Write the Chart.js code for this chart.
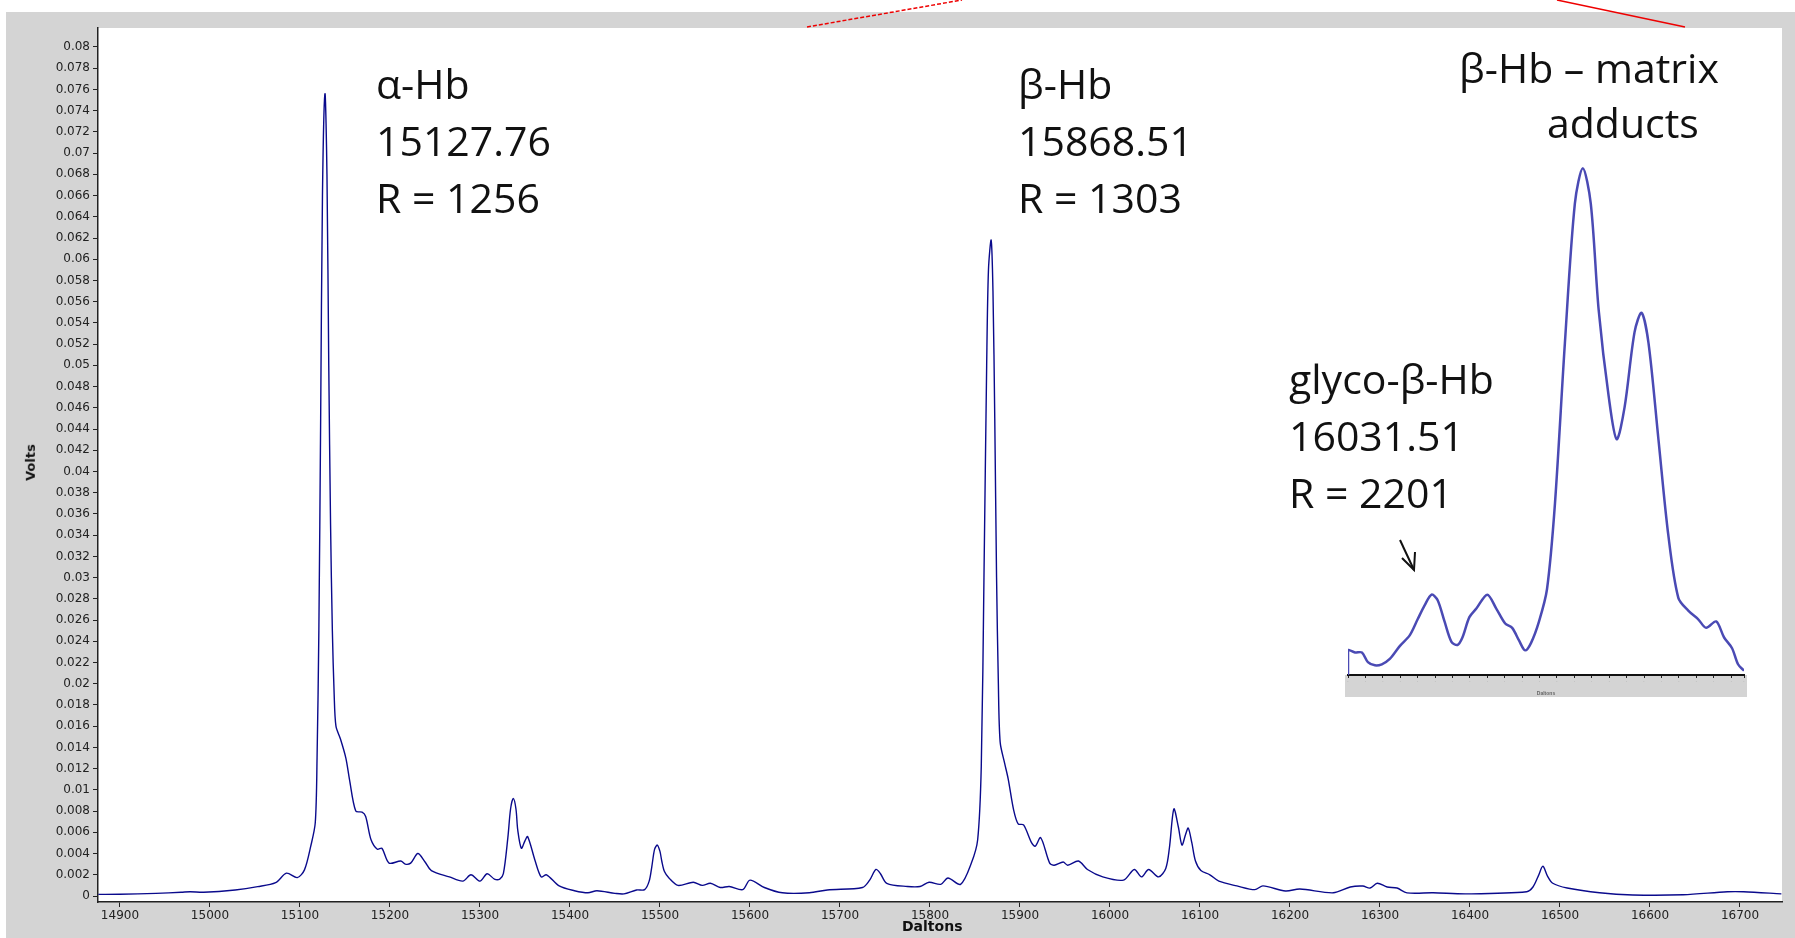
<!DOCTYPE html>
<html>
<head>
<meta charset="utf-8">
<script src="https://cdn.jsdelivr.net/npm/chart.js@4/dist/chart.umd.min.js"></script>
<style>
  html, body { margin: 0; padding: 0; }
  body { width: 1795px; height: 938px; position: relative; overflow: hidden; background: #fff; font-family: "Open Sans", "Noto Sans", sans-serif; }
  #panel { position: absolute; left: 6px; top: 12px; right: 0; bottom: 0; background: #d4d4d4; }
  #main { position: absolute; left: 0; top: 0; }
  #inset { position: absolute; left: 1340px; top: 150px; }
  .note { position: absolute; font-size: 41px; line-height: 57px; color: #111; white-space: nowrap; }
  .axt { position: absolute; font-family: "DejaVu Sans", sans-serif; font-weight: bold; font-size: 13px; color: #111; }
  svg { position: absolute; left: 0; top: 0; }
</style>
</head>
<body>
<div id="panel"></div>
<canvas id="main" width="1795" height="938"></canvas>
<canvas id="inset" width="420" height="547"></canvas>

<div class="note" style="left:376px;top:55px">α-Hb<br>15127.76<br>R = 1256</div>
<div class="note" style="left:1018px;top:55px">β-Hb<br>15868.51<br>R = 1303</div>
<div class="note" style="left:1459px;top:40px;line-height:55px">β-Hb – matrix<br><span style="padding-left:88px">adducts</span></div>
<div class="note" style="left:1289px;top:350px">glyco-β-Hb<br>16031.51<br>R = 2201</div>
<div class="axt" style="left:12px;top:455px;transform:rotate(-90deg)">Volts</div>
<div class="axt" style="left:902px;top:918px;font-size:14px">Daltons</div>

<svg width="1795" height="938">
  <line x1="807" y1="27" x2="962" y2="0" stroke="#e00" stroke-width="1.5" stroke-dasharray="4,2"/>
  <line x1="1557" y1="0" x2="1685" y2="27" stroke="#e00" stroke-width="1.5"/>
  <line x1="1400" y1="540" x2="1414" y2="570" stroke="#111" stroke-width="2"/>
  <polyline points="1402,558 1414,570 1415,552" fill="none" stroke="#111" stroke-width="2"/>
</svg>

<script>
// spectrum: mass (Da) vs signal (V)
const massDa = [
  14876, 14900, 14940, 14968, 14978, 14993, 15028, 15053, 15073, 15085, 15097, 15105, 15112, 15117,
  15119, 15121, 15123, 15125, 15127.8, 15130, 15132, 15134, 15136, 15138, 15140, 15145, 15151, 15155,
  15162, 15169, 15173, 15179, 15186, 15191, 15199, 15212, 15217, 15223, 15231, 15239, 15246, 15266,
  15281, 15290, 15300, 15308, 15316, 15322, 15326, 15331, 15334, 15337, 15340, 15342, 15346, 15350, 15353,
  15361, 15368, 15374, 15388, 15405, 15420, 15430, 15450, 15460, 15474, 15483, 15488, 15491, 15494, 15497,
  15500, 15502, 15505, 15510, 15520, 15537, 15547, 15556, 15567, 15577, 15592, 15600, 15616, 15636,
  15666, 15686, 15725, 15733, 15740, 15745, 15752, 15775, 15789, 15799, 15812, 15820, 15834, 15846,
  15853, 15857, 15860, 15863, 15865, 15868, 15870, 15872, 15874, 15876, 15878, 15883, 15887, 15893,
  15898, 15904, 15913, 15917, 15923, 15933, 15938, 15948, 15953, 15965, 15975, 15992, 16015, 16027,
  16035, 16043, 16054, 16062, 16066, 16071, 16076, 16080, 16084, 16087, 16091, 16095, 16101, 16111, 16121,
  16141, 16161, 16170, 16195, 16211, 16248, 16267, 16281, 16289, 16297, 16308, 16319, 16330, 16359,
  16396, 16463, 16470, 16476, 16481, 16486, 16492, 16508, 16544, 16581, 16637, 16686, 16704, 16746
];
const signalV = [
  0.00015, 0.00016, 0.00025, 0.00035, 0.0004, 0.00035, 0.00057, 0.00088, 0.00126, 0.00215, 0.00173, 0.00246, 0.0047, 0.0069,
  0.013, 0.025, 0.045, 0.066, 0.0756, 0.068, 0.05, 0.035, 0.025, 0.019, 0.016, 0.0148, 0.013, 0.011,
  0.008, 0.0079, 0.0075, 0.0053, 0.0044, 0.0045, 0.0031, 0.0033, 0.003, 0.0031, 0.004, 0.0032, 0.0024, 0.0018,
  0.0014, 0.002, 0.0014, 0.0021, 0.0016, 0.0016, 0.0021, 0.0055, 0.0082, 0.0092, 0.0082, 0.0062, 0.0045, 0.0052, 0.0056,
  0.0034, 0.0018, 0.002, 0.00095, 0.0005, 0.0003, 0.0005, 0.00025, 0.0002, 0.00057, 0.0006, 0.0014, 0.0028, 0.0044, 0.0048,
  0.0042, 0.0033, 0.0023, 0.0017, 0.001, 0.0013, 0.001, 0.0012, 0.0008, 0.0009, 0.0006, 0.0015, 0.0008, 0.0003,
  0.0003, 0.00057, 0.0008, 0.0015, 0.0025, 0.0021, 0.0012, 0.0009, 0.0009, 0.0013, 0.0011, 0.0017, 0.0011, 0.0031,
  0.0053, 0.0122, 0.03, 0.05, 0.059, 0.0618, 0.057, 0.045, 0.03, 0.02, 0.0145, 0.0125, 0.011, 0.0081,
  0.0068, 0.0067, 0.005, 0.0047, 0.0055, 0.0031, 0.0029, 0.0032, 0.0029, 0.0033, 0.0025, 0.0018, 0.0015, 0.0025,
  0.0018, 0.0025, 0.0018, 0.0026, 0.0045, 0.0082, 0.0065, 0.0048, 0.0058, 0.0064, 0.005, 0.0033, 0.0024, 0.002, 0.0014,
  0.00095, 0.0006, 0.00095, 0.00047, 0.00066, 0.0003, 0.00085, 0.00094, 0.00075, 0.0012, 0.00085, 0.00075, 0.0003, 0.0003,
  0.0002, 0.0004, 0.00085, 0.0019, 0.0028, 0.0019, 0.0012, 0.00075, 0.0003, 0.0001, 0.00012, 0.0004, 0.0004, 0.0002
];
const yTickValues = [];
for (let v = 0; v <= 80; v += 2) yTickValues.push(v / 1000);
const xTickValues = [14900, 15000, 15100, 15200, 15300, 15400, 15500, 15600, 15700, 15800, 15900, 16000, 16100, 16200, 16300, 16400, 16500, 16600, 16700];

// inset (zoomed β-Hb adduct region), read in inset pixel units
const insetX = [0, 0, 7, 14, 20, 27, 34, 42, 52, 62, 70, 77, 84, 90, 97, 104, 110, 115, 122, 129, 140, 149, 158, 165, 172, 178, 184,
  192, 200, 208, 218, 228, 236, 244, 252, 262, 270, 278, 288, 295, 302, 312, 322, 332, 342, 352, 360, 370, 378, 386, 392, 398];
const insetY = [0, 23, 21, 21, 12, 9, 10, 15, 27, 37, 52, 65, 75, 70, 50, 31, 28, 35, 54, 62, 75, 62, 48, 44, 32, 23, 30,
  50, 80, 160, 310, 440, 473, 440, 340, 260, 220, 250, 320, 338, 310, 220, 130, 72, 60, 52, 44, 50, 35, 25, 10, 4];

const plotBg = {
  id: 'plotBg',
  beforeDraw(chart) {
    const a = chart.chartArea, ctx = chart.ctx;
    ctx.save();
    ctx.fillStyle = '#ffffff';
    ctx.fillRect(a.left, a.top, a.right - a.left, a.bottom - a.top);
    ctx.restore();
  }
};

const tickFont = { family: 'DejaVu Sans', size: 12 };

new Chart(document.getElementById('main'), {
  type: 'line',
  data: {
    datasets: [{
      data: massDa.map((m, i) => ({ x: m, y: signalV[i] })),
      borderColor: '#0a0a8c',
      borderWidth: 1.4,
      pointRadius: 0,
      tension: 0.3,
      fill: false
    }]
  },
  options: {
    responsive: false,
    animation: false,
    layout: { padding: { top: 28, right: 13, left: 0, bottom: 0 } },
    plugins: { legend: { display: false }, tooltip: { enabled: false } },
    scales: {
      x: {
        type: 'linear', min: 14875.6, max: 16746.7,
        afterFit(s) { s.height = 36; },
        afterBuildTicks(s) { s.ticks = xTickValues.map(v => ({ value: v })); },
        ticks: { color: '#222', font: tickFont, maxRotation: 0, padding: 2, callback: v => String(v) },
        grid: { drawOnChartArea: false, tickLength: 5, color: '#222' },
        border: { color: '#222', width: 1.5 }
      },
      y: {
        type: 'linear', min: -0.000565, max: 0.08179,
        afterFit(s) { s.width = 98; },
        afterBuildTicks(s) { s.ticks = yTickValues.map(v => ({ value: v })); },
        ticks: { color: '#222', font: tickFont, padding: 3, callback: v => String(Number(v.toFixed(3))) },
        grid: { drawOnChartArea: false, tickLength: 5, color: '#222' },
        border: { color: '#222', width: 1.5 }
      }
    }
  },
  plugins: [plotBg]
});

const insetBand = {
  id: 'insetBand',
  beforeDraw(chart) {
    const a = chart.chartArea, ctx = chart.ctx;
    ctx.save();
    ctx.fillStyle = '#d4d4d4';
    ctx.fillRect(a.left - 3, a.bottom, a.right - a.left + 6, chart.height - a.bottom);
    ctx.restore();
  }
};

new Chart(document.getElementById('inset'), {
  type: 'line',
  data: {
    datasets: [{
      data: insetX.map((x, i) => ({ x: x, y: insetY[i] })),
      borderColor: '#4a4ab4',
      borderWidth: 2.5,
      pointRadius: 0,
      tension: 0.3,
      fill: false
    }]
  },
  options: {
    responsive: false,
    animation: false,
    layout: { padding: { left: 8, right: 16, top: 0, bottom: 0 } },
    plugins: { legend: { display: false }, tooltip: { enabled: false } },
    scales: {
      x: {
        type: 'linear', min: 0, max: 398,
        afterFit(s) { s.height = 22; },
        ticks: { stepSize: 17.5, color: '#888', font: { size: 4 }, maxRotation: 0, padding: 1, callback: () => '·' },
        title: { display: true, text: 'Daltons', color: '#666', font: { size: 5, weight: 'bold' }, padding: 0 },
        grid: { drawOnChartArea: false, tickLength: 3, color: '#222' },
        border: { color: '#111', width: 2 }
      },
      y: { display: false, min: 0, max: 490 }
    }
  },
  plugins: [insetBand]
});
</script>
</body>
</html>
